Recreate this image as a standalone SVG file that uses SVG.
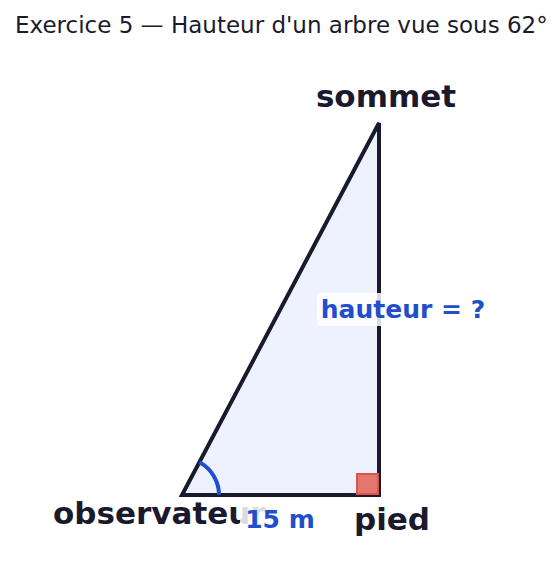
<svg xmlns="http://www.w3.org/2000/svg" width="560" height="585" viewBox="0 0 560 585">
<style>
.lbl{font-family:"DejaVu Sans",sans-serif;font-weight:bold;fill:#1a1a2e;font-size:31px}
.blue{font-family:"DejaVu Sans",sans-serif;font-weight:bold;fill:#1f4fcc;font-size:25px}
.bg{fill:#ffffff;fill-opacity:0.85}
</style>
<rect width="560" height="585" fill="#ffffff"/>
<text x="15" y="33" font-family="DejaVu Sans,sans-serif" font-size="23" fill="#1a1a2e">Exercice 5 — Hauteur d'un arbre vue sous 62°</text>
<g id="triangle">
<polygon points="182,495 379,495 379,123" fill="#eef2fe" stroke="#1a1a2e" stroke-width="4" stroke-linejoin="miter"/>
</g>
<g id="right-angle">
<rect x="357" y="474" width="21" height="20" fill="#e06055" fill-opacity="0.85" stroke="#d9534f" stroke-width="2"/>
</g>
<g id="angle">
<path d="M219,495 A37,37 0 0 0 199.4,462.3" fill="none" stroke="#1f4fcc" stroke-width="4"/>
</g>
<g id="sommet"><text class="lbl" x="386" y="107" text-anchor="middle">sommet</text></g>
<g id="observateur"><text class="lbl" x="53" y="524">observateur</text></g>
<g id="pied"><text class="lbl" x="392" y="530" text-anchor="middle">pied</text></g>
<g id="base-label">
<rect class="bg" x="240" y="504" width="80" height="32" rx="4"/>
<text class="blue" x="280" y="528" text-anchor="middle">15 m</text>
</g>
<g id="height-label">
<rect class="bg" x="317" y="293" width="172" height="33" rx="4"/>
<text class="blue" x="403" y="318" text-anchor="middle">hauteur = ?</text>
</g>
</svg>
